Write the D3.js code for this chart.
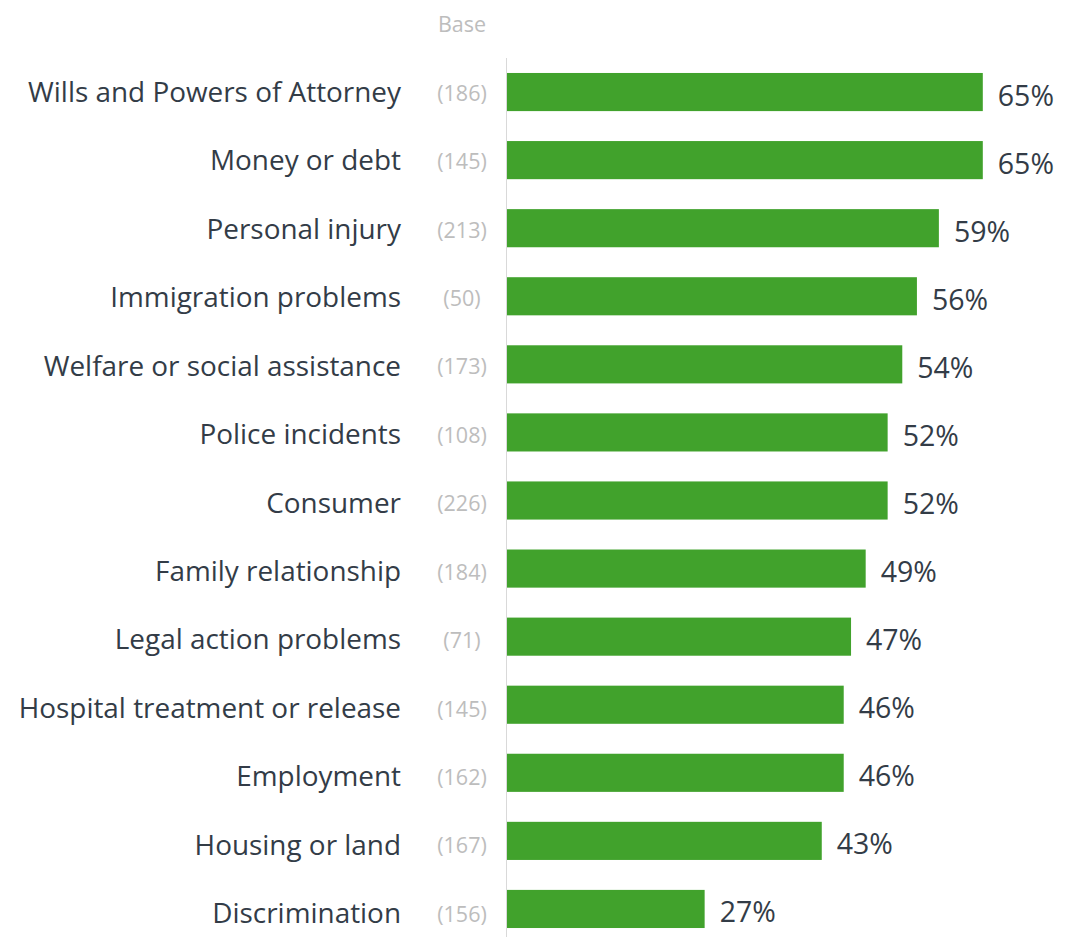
<!DOCTYPE html>
<html><head><meta charset="utf-8">
<script src="https://cdn.jsdelivr.net/npm/d3@7"></script>
<style>body{margin:0;background:#fff}svg{display:block}text{font-family:"Open Sans","Noto Sans",sans-serif}</style>
</head><body><svg id="c" width="1077" height="937"></svg>
<script>
const categories = ["Wills and Powers of Attorney","Money or debt","Personal injury","Immigration problems","Welfare or social assistance","Police incidents","Consumer","Family relationship","Legal action problems","Hospital treatment or release","Employment","Housing or land","Discrimination"];
const values = [65,65,59,56,54,52,52,49,47,46,46,43,27];
const bases = [186,145,213,50,173,108,226,184,71,145,162,167,156];
const baseTitle = "Base";

const svg = d3.select("#c");
const x = d3.scaleLinear().domain([0,100]).range([507, 507+732]);
const y = d3.scaleBand().domain(categories).range([58,943]).paddingInner(0.44).paddingOuter(0.22);
// category text rows are spaced very slightly wider than the bars in the original
const yLab = d3.scaleBand().domain(categories).range([58,947.5]).paddingInner(0.44).paddingOuter(0.22);
const lc = d => yLab(d.c)+yLab.bandwidth()/2;
const bc = d => y(d.c)+y.bandwidth()/2;

svg.append("line").attr("x1",506.5).attr("x2",506.5).attr("y1",58).attr("y2",937).attr("stroke","#d9d9d9").attr("stroke-width",1);

svg.append("text").attr("x",462).attr("y",24).attr("dy","0.35em").attr("text-anchor","middle").attr("fill","#bdbdbd").attr("font-size",21.5).text(baseTitle);

const rows = categories.map((c,i)=>({c, v:values[i], b:bases[i]}));
const g = svg.selectAll("g.row").data(rows).join("g").attr("class","row");
g.append("rect").attr("x",x(0)).attr("y",d=>y(d.c)).attr("width",d=>x(d.v)-x(0)).attr("height",y.bandwidth()).attr("fill","#41a22c");
g.append("text").attr("x",401).attr("y",lc).attr("dy","0.35em").attr("text-anchor","end").attr("fill","#333c47").attr("font-size",27.9).text(d=>d.c);
g.append("text").attr("x",462).attr("y",d=>lc(d)+1).attr("dy","0.35em").attr("text-anchor","middle").attr("fill","#bdbdbd").attr("font-size",21.5).text(d=>"("+d.b+")");
g.append("text").attr("x",d=>x(d.v)+15).attr("y",d=>bc(d)+3.5).attr("dy","0.35em").attr("fill","#333c47").attr("font-size",28.5).text(d=>d.v+"%");
</script></body></html>
